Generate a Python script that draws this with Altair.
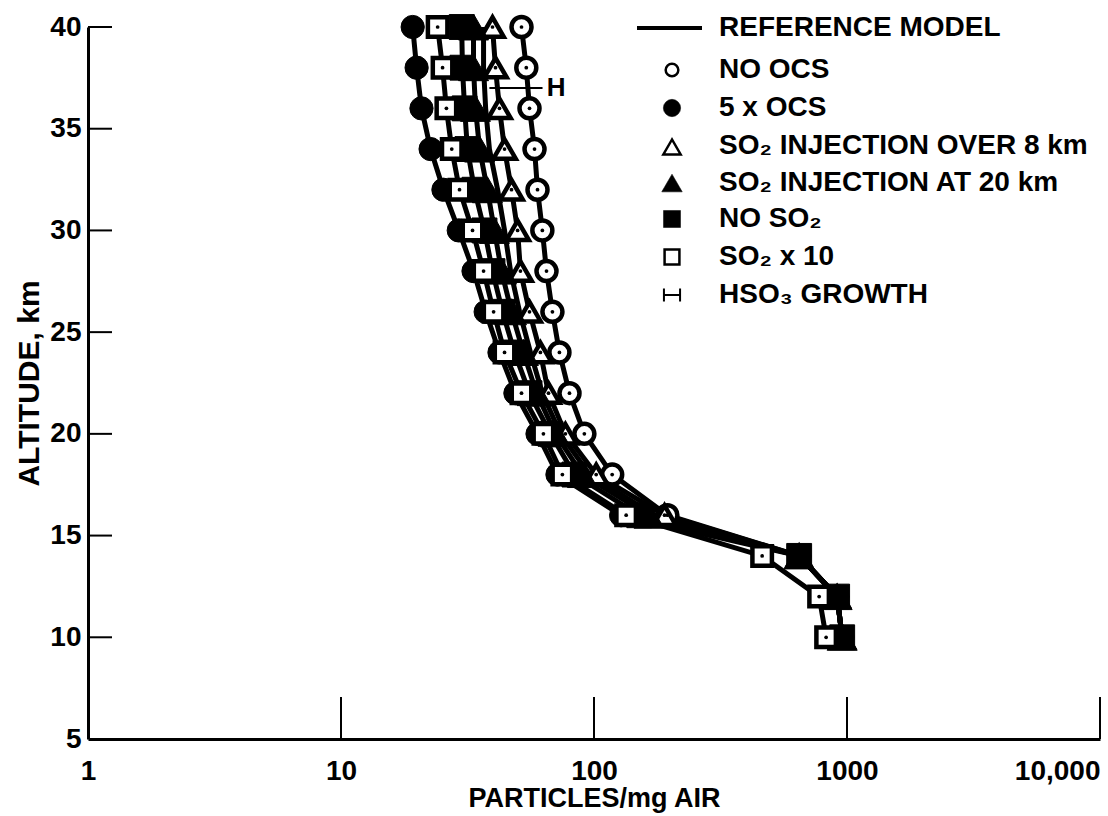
import altair as alt
import pandas as pd

# ---------------- data ----------------
altitude = [40, 38, 36, 34, 32, 30, 28, 26, 24, 22, 20, 18, 16, 14, 12, 10]

reference_model = [36.6, 36.6, 37.3, 38.6, 41.6, 44.3, 46.8, 50.8, 56.1, 62.5, 73.7, 96, 173, 647, 914, 957]
no_ocs = [51.7, 54.0, 55.6, 58.2, 59.8, 62.5, 64.9, 68.5, 73.0, 80.0, 91.6, 118, 195, 647, 914, 957]
five_x_ocs = [19.2, 19.9, 20.8, 22.6, 25.4, 29.2, 33.4, 37.3, 42.3, 48.9, 59.8, 71.7, 128, 647, 914, 957]
so2_inj_8km = [39.7, 40.8, 42.3, 44.3, 47.2, 49.9, 51.2, 55.6, 61.4, 66.1, 77.1, 102, 190, 647, 914, 957]
so2_inj_20km = [33.4, 33.4, 34.0, 35.3, 37.9, 40.4, 43.1, 47.2, 52.6, 59.3, 70.4, 90, 165, 647, 914, 957]
no_so2 = [30.0, 30.2, 30.8, 31.6, 33.7, 36.9, 39.7, 43.5, 48.5, 55.6, 67.3, 83.7, 151, 647, 914, 957]
so2_x10 = [24.1, 25.2, 26.1, 27.4, 29.4, 33.1, 36.6, 40.1, 44.3, 51.7, 63.1, 75.0, 134, 462, 776, 827]

hso3_altitude = [37.0]
hso3_x_from = [38.6]
hso3_x_to = [62.6]
hso3_label_x = [65.0]

x_ticks = [1, 10, 100, 1000, 10000]
y_ticks = [5, 10, 15, 20, 25, 30, 35, 40]

legend_labels = [
    "REFERENCE MODEL",
    "NO OCS",
    "5 x OCS",
    "SO\u2082 INJECTION OVER 8 km",
    "SO\u2082 INJECTION AT 20 km",
    "NO SO\u2082",
    "SO\u2082 x 10",
    "HSO\u2083 GROWTH",
]

# ---------------- layout / style ----------------
W, H = 1012, 712
FONT = "Liberation Sans"

series = {
    "ref": reference_model,
    "no_ocs": no_ocs,
    "five_ocs": five_x_ocs,
    "inj8": so2_inj_8km,
    "inj20": so2_inj_20km,
    "no_so2": no_so2,
    "so2x10": so2_x10,
}
rows = []
for name, vals in series.items():
    for a, v in zip(altitude, vals):
        rows.append({"series": name, "alt": a, "x": v})
df = pd.DataFrame(rows)

xs = alt.Scale(type="log", domain=[1, 10000], nice=False)
ys = alt.Scale(domain=[5, 40], nice=False, zero=False)

x_axis = alt.Axis(
    values=x_ticks, tickSize=0, grid=False, domainWidth=3, domainColor="black",
    labelFont=FONT, labelFontSize=28, labelFontWeight="bold", labelColor="black",
    labelPadding=18,
    labelExpr="datum.value >= 10000 ? '10,000' : format(datum.value, 'd')",
    labelAlign={"condition": {"test": "datum.value >= 10000", "value": "right"}, "value": "center"},
    title="PARTICLES/mg AIR", titleFont=FONT, titleFontSize=27, titleFontWeight="bold",
    titleColor="black", titlePadding=0,
)
y_axis = alt.Axis(
    values=y_ticks, tickSize=0, grid=False, domainWidth=3, domainColor="black",
    labelFont=FONT, labelFontSize=28, labelFontWeight="bold", labelColor="black",
    labelPadding=7,
    title="ALTITUDE, km", titleFont=FONT, titleFontSize=30, titleFontWeight="bold",
    titleColor="black", titlePadding=5,
)


def X(field):
    return alt.X(field, scale=xs, axis=x_axis)


def Y(field):
    return alt.Y(field, scale=ys, axis=y_axis)


base = alt.Chart(df)

lines = base.mark_line(color="black", strokeWidth=5).encode(
    x=X("x:Q"), y=Y("alt:Q"), detail="series:N", order="alt:Q",
)


def pts(name, shape, filled, size):
    m = dict(shape=shape, size=size, opacity=1)
    if filled:
        m.update(filled=True, fill="black", stroke="black", strokeWidth=1)
    else:
        m.update(filled=True, fill="white", stroke="black", strokeWidth=4.5)
    return base.transform_filter(alt.datum.series == name).mark_point(**m).encode(
        x=X("x:Q"), y=Y("alt:Q"))


def dots(name):
    return base.transform_filter(alt.datum.series == name).mark_point(
        shape="circle", size=14, filled=True, color="black", opacity=1
    ).encode(x=X("x:Q"), y=Y("alt:Q"))


layers = [
    lines,
    pts("no_ocs", "circle", False, 400),
    pts("inj8", "triangle-up", False, 500),
    pts("five_ocs", "circle", True, 540),
    pts("inj20", "triangle-up", True, 900),
    pts("no_so2", "square", True, 620),
    pts("so2x10", "square", False, 380),
    dots("no_ocs"), dots("inj8"), dots("so2x10"),
]

# inside ticks
xt = pd.DataFrame({"v": x_ticks[1:]})
layers.append(alt.Chart(xt).mark_rule(color="black", strokeWidth=2).encode(
    x=X("v:Q"), y=alt.value(H), y2=alt.value(H - 42)))
yt = pd.DataFrame({"v": y_ticks[1:]})
layers.append(alt.Chart(yt).mark_rule(color="black", strokeWidth=2).encode(
    y=Y("v:Q"), x=alt.value(0), x2=alt.value(24)))

# HSO3 growth marker
hdf = pd.DataFrame({"alt": hso3_altitude, "x1": hso3_x_from, "x2": hso3_x_to,
                    "lx": hso3_label_x, "t": ["H"]})
layers.append(alt.Chart(hdf).mark_rule(color="black", strokeWidth=2).encode(
    x=X("x1:Q"), x2="x2:Q", y=Y("alt:Q")))
layers.append(alt.Chart(hdf).mark_text(font=FONT, fontSize=26, fontWeight="bold", align="left",
                                       baseline="middle", color="black").encode(
    x=X("lx:Q"), y=Y("alt:Q"), text="t:N"))

# legend (drawn by hand)
leg_y = [28, 70, 108, 146, 183, 219, 257, 295]
SYM_X = 672 - 88
TXT_X = 719 - 88
for lab, yy in zip(legend_labels, leg_y):
    layers.append(alt.Chart(pd.DataFrame({"t": [lab]})).mark_text(
        font=FONT, fontSize=28, fontWeight="bold", align="left", baseline="middle", color="black"
    ).encode(text="t:N", x=alt.value(TXT_X), y=alt.value(yy - 27)))

one = pd.DataFrame({"k": [0]})
layers.append(alt.Chart(one).mark_rule(color="black", strokeWidth=4).encode(
    x=alt.value(637 - 88), x2=alt.value(702 - 88), y=alt.value(28 - 27)))
leg_syms = [
    ("circle", False, 160, 70),
    ("circle", True, 300, 108),
    ("triangle-up", False, 300, 147),
    ("triangle-up", True, 420, 183),
    ("square", True, 290, 219),
    ("square", False, 220, 257),
]
for shape, filled, size, yy in leg_syms:
    m = dict(shape=shape, size=size, opacity=1)
    if filled:
        m.update(filled=True, fill="black", stroke="black", strokeWidth=0.5)
    else:
        m.update(filled=True, fill="white", stroke="black", strokeWidth=2.5)
    layers.append(alt.Chart(one).mark_point(**m).encode(x=alt.value(SYM_X), y=alt.value(yy - 27)))
layers.append(alt.Chart(one).mark_point(
    shape="M-1,-0.8L-1,0.8M-1,0L1,0M1,-0.8L1,0.8", size=260, stroke="black", strokeWidth=2,
    filled=False, opacity=1).encode(x=alt.value(SYM_X), y=alt.value(295 - 27)))

chart = alt.layer(*layers).properties(
    width=W, height=H, background="white",
    autosize=alt.AutoSizeParams(type="none"),
    padding={"left": 88, "top": 27, "right": 8, "bottom": 77},
).configure_view(stroke=None)

chart.save("out.html", embed_options={"renderer": "svg", "actions": False})
